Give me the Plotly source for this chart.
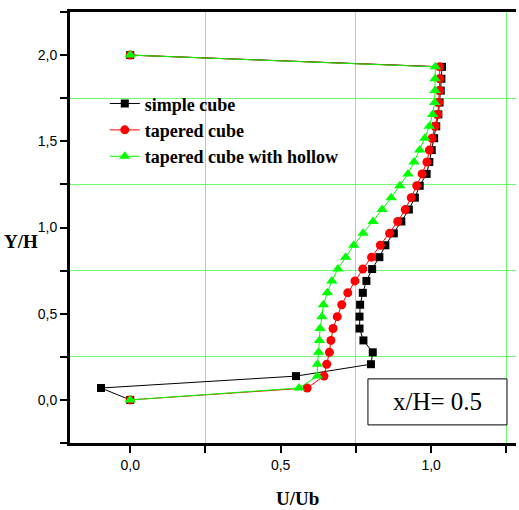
import plotly.graph_objects as go

y_levels = [0.0, 0.069, 0.138, 0.207, 0.276, 0.345, 0.414, 0.483, 0.552, 0.621,
            0.69, 0.759, 0.828, 0.897, 0.966, 1.035, 1.104, 1.173, 1.242, 1.311,
            1.38, 1.449, 1.518, 1.587, 1.656, 1.725, 1.794, 1.863, 1.932, 2.0]

simple_cube = [0.0, -0.097, 0.551, 0.80, 0.806, 0.775, 0.762, 0.762, 0.764, 0.773,
               0.785, 0.804, 0.828, 0.848, 0.876, 0.901, 0.926, 0.946, 0.962, 0.985,
               0.994, 1.002, 1.010, 1.017, 1.024, 1.028, 1.032, 1.034, 1.036, 0.0]

tapered_cube = [0.0, 0.588, 0.644, 0.653, 0.662, 0.667, 0.674, 0.688, 0.703, 0.723,
                0.747, 0.773, 0.802, 0.831, 0.862, 0.889, 0.914, 0.934, 0.952, 0.970,
                0.986, 0.994, 1.003, 1.013, 1.022, 1.025, 1.028, 1.029, 1.028, 0.0]

tapered_hollow = [0.0, 0.561, 0.622, 0.622, 0.626, 0.629, 0.631, 0.637, 0.642, 0.655,
                  0.670, 0.690, 0.716, 0.743, 0.774, 0.807, 0.837, 0.867, 0.896, 0.923,
                  0.943, 0.962, 0.979, 0.994, 1.005, 1.012, 1.013, 1.013, 1.014, 0.0]

series_names = ["simple cube", "tapered cube", "tapered cube with hollow"]
x_ticks = [0.0, 0.5, 1.0]
y_ticks = [0.0, 0.5, 1.0, 1.5, 2.0]
x_ticklabels = ["0,0", "0,5", "1,0"]
y_ticklabels = ["0,0", "0,5", "1,0", "1,5", "2,0"]
annotation_text = "x/H= 0.5"

fig = go.Figure()
styles = [
    dict(color="#000000", symbol="square", size=8),
    dict(color="#ff0000", symbol="circle", size=9),
    dict(color="#00ff00", symbol="triangle-up", size=10),
]
for name, xs, st in zip(series_names, [simple_cube, tapered_cube, tapered_hollow], styles):
    fig.add_trace(go.Scatter(
        x=xs, y=y_levels, name=name, mode="lines+markers",
        line=dict(color=st["color"], width=1),
        marker=dict(color=st["color"], symbol=st["symbol"], size=st["size"], line=dict(width=0)),
    ))

grid_color = "rgb(110,255,110)"
fig.update_layout(
    width=519, height=510,
    margin=dict(l=70, r=3, t=12, b=67),
    plot_bgcolor="white", paper_bgcolor="white",
    showlegend=True,
    legend=dict(x=0.078, y=0.83, xanchor="left", yanchor="top",
                bgcolor="rgba(0,0,0,0)", borderwidth=0,
                font=dict(family="Liberation Serif", size=18, color="black", weight="bold")),
    font=dict(family="Liberation Sans", size=14, color="black"),
)
fig.update_xaxes(
    range=[-0.2, 1.282], showline=True, linecolor="black", linewidth=3, mirror=True,
    tickmode="array", tickvals=x_ticks, ticktext=x_ticklabels,
    ticks="outside", ticklen=7, tickwidth=2, tickcolor="black",
    showgrid=False, zeroline=False,
    tickfont=dict(family="Liberation Sans", size=14, color="black"),
    minor=dict(tickmode="array", tickvals=[0.25, 0.75, 1.25], ticks="outside", ticklen=7, tickwidth=2,
               tickcolor="black", showgrid=True, gridcolor=grid_color, gridwidth=1),
)
fig.update_yaxes(
    range=[-0.25, 2.25], showline=True, linecolor="black", linewidth=3, mirror=False,
    tickmode="array", tickvals=y_ticks, ticktext=y_ticklabels,
    ticks="outside", ticklen=7, tickwidth=2, tickcolor="black",
    showgrid=False, zeroline=False,
    tickfont=dict(family="Liberation Sans", size=14, color="black"),
    minor=dict(tickmode="array", tickvals=[-0.25, 0.25, 0.75, 1.25, 1.75, 2.25], ticks="outside", ticklen=7,
               tickwidth=2, tickcolor="black", showgrid=True, gridcolor=grid_color, gridwidth=1),
)

fig.add_annotation(text="<b>U/Ub</b>", xref="paper", yref="paper", x=0.51, y=-0.128,
                   xanchor="center", yanchor="middle", showarrow=False,
                   font=dict(family="Liberation Serif", size=19, color="black"))
fig.add_annotation(text="<b>Y/H</b>", xref="paper", yref="paper", x=-0.11, y=0.468,
                   xanchor="center", yanchor="middle", showarrow=False,
                   font=dict(family="Liberation Serif", size=19, color="black"))
fig.add_shape(type="rect", xref="x", yref="y", x0=0.79, x1=1.252, y0=-0.145, y1=0.122,
              line=dict(color="black", width=1), fillcolor="white")
fig.add_annotation(text=annotation_text, xref="x", yref="y", x=1.021, y=-0.012,
                   xanchor="center", yanchor="middle", showarrow=False,
                   font=dict(family="Liberation Serif", size=25, color="black"))

fig.write_html("out.html")
